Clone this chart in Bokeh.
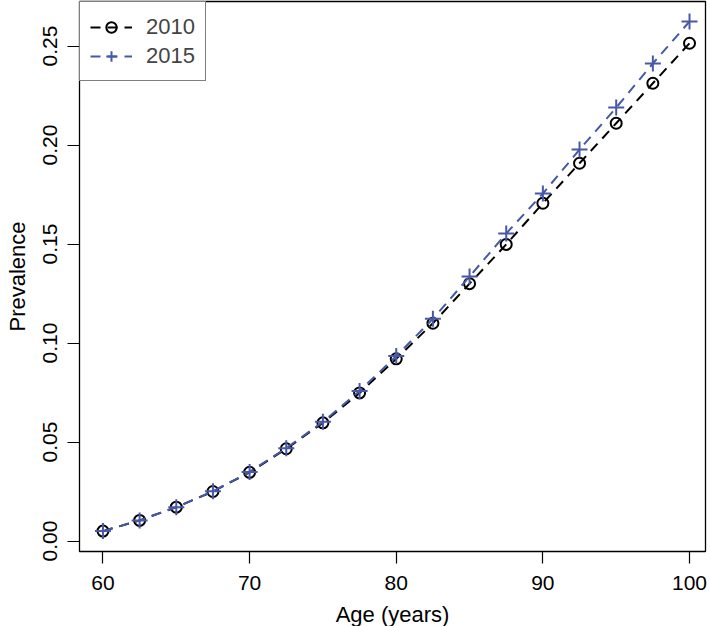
from bokeh.plotting import figure
from bokeh.models import Range1d, FixedTicker, Legend, LegendItem
from bokeh.embed import file_html
from bokeh.resources import INLINE

ages = [60, 62.5, 65, 67.5, 70, 72.5, 75, 77.5, 80, 82.5, 85, 87.5, 90, 92.5, 95, 97.5, 100]
prev_2010 = [0.0050, 0.0104, 0.0171, 0.0250, 0.0347, 0.0466, 0.0597, 0.0748, 0.0920,
             0.1100, 0.1300, 0.1498, 0.1706, 0.1908, 0.2110, 0.2312, 0.2514]
prev_2015 = [0.0050, 0.0104, 0.0171, 0.0251, 0.0349, 0.0469, 0.0602, 0.0758, 0.0934,
             0.1122, 0.1336, 0.1553, 0.1755, 0.1977, 0.2189, 0.2412, 0.2624]
x_ticks = [60, 70, 80, 90, 100]
y_ticks = [0.00, 0.05, 0.10, 0.15, 0.20, 0.25]
series_labels = ["2010", "2015"]

BLUE = "#4759a6"
FONT = "Liberation Sans"

p = figure(frame_width=626, frame_height=550, output_backend="svg", toolbar_location=None,
           x_range=Range1d(58.4, 101.09), y_range=Range1d(-0.0053, 0.2725),
           min_border_left=79, min_border_right=3, min_border_top=1, min_border_bottom=0)
p.grid.visible = False
p.outline_line_color = "black"
p.outline_line_width = 1.3
p.background_fill_color = "white"
p.border_fill_color = "white"

for ax in (p.xaxis[0], p.yaxis[0]):
    ax.axis_line_color = None
    ax.major_tick_out = 12
    ax.major_tick_in = 0
    ax.minor_tick_line_color = None
    ax.major_tick_line_width = 1.2
    ax.major_tick_line_color = "black"
    ax.major_label_text_font = FONT
    ax.major_label_text_font_size = "21px"
    ax.major_label_text_color = "black"
    ax.axis_label_text_font = FONT
    ax.axis_label_text_font_size = "22px"
    ax.axis_label_text_font_style = "normal"
    ax.axis_label_text_color = "black"

p.xaxis.ticker = FixedTicker(ticks=x_ticks)
p.yaxis.ticker = FixedTicker(ticks=y_ticks)
p.xaxis.major_label_overrides = {t: str(t) for t in x_ticks}
p.yaxis.major_label_overrides = {t: f"{t:.2f}" for t in y_ticks}
p.yaxis.major_label_orientation = "vertical"
p.xaxis.axis_label = "Age (years)"
p.yaxis.axis_label = "Prevalence"
p.xaxis.major_label_standoff = 12
p.yaxis.major_label_standoff = 10
p.xaxis.axis_label_standoff = 9
p.yaxis.axis_label_standoff = 11

l1 = p.line(ages, prev_2010, line_color="black", line_width=2, line_dash="10 7")
s1 = p.scatter(ages, prev_2010, marker="circle", size=11, fill_color=None,
               line_color="black", line_width=2)
l2 = p.line(ages, prev_2015, line_color=BLUE, line_width=2, line_dash="10 7")
s2 = p.scatter(ages, prev_2015, marker="cross", size=16, line_color=BLUE, line_width=2)

legend = Legend(items=[LegendItem(label=series_labels[0], renderers=[l1, s1]),
                       LegendItem(label=series_labels[1], renderers=[l2, s2])],
                location="top_left")
legend.margin = 0
legend.border_line_color = "black"
legend.border_line_width = 1.3
legend.background_fill_alpha = 1
legend.label_text_font = FONT
legend.label_text_font_size = "22px"
legend.glyph_width = 42
legend.glyph_height = 26
legend.label_height = 29
legend.label_standoff = 14
legend.spacing = 0
legend.padding = 10
p.add_layout(legend)

open("out.html", "w").write(file_html(p, INLINE))
